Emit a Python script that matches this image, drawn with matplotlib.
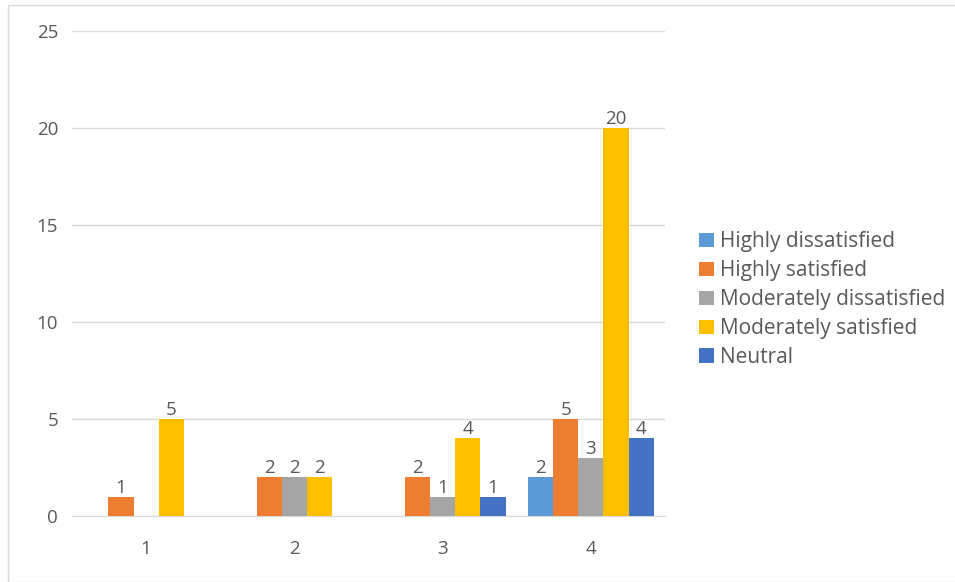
import matplotlib
matplotlib.use('Agg')
import matplotlib.pyplot as plt
from matplotlib.patches import Rectangle
import numpy as np

categories = ['1', '2', '3', '4']
series_names = ['Highly dissatisfied', 'Highly satisfied', 'Moderately dissatisfied',
                'Moderately satisfied', 'Neutral']
highly_dissatisfied = [0, 0, 0, 2]
highly_satisfied = [1, 2, 2, 5]
moderately_dissatisfied = [0, 2, 1, 3]
moderately_satisfied = [5, 2, 4, 20]
neutral = [0, 0, 1, 4]
colors = ['#5B9BD5', '#ED7D31', '#A5A5A5', '#FFC000', '#4472C4']

plt.rcParams['font.family'] = ['Open Sans', 'DejaVu Sans']
text_color = '#595959'
fs = 13.5

fig = plt.figure(figsize=(9.55, 5.82), dpi=100)
ax = fig.add_axes([72 / 955, 1 - 516 / 582, 593 / 955, (516 - 31) / 582])

# light frame round the chart
fig.patches.append(Rectangle((8 / 955, 0), 1, 1 - 5 / 582, transform=fig.transFigure,
                             fill=False, edgecolor='#D9D9D9', linewidth=1))

x = np.arange(1, len(categories) + 1)
width = 0.17
all_values = [highly_dissatisfied, highly_satisfied, moderately_dissatisfied,
              moderately_satisfied, neutral]
for i, (name, vals, c) in enumerate(zip(series_names, all_values, colors)):
    bars = ax.bar(x + (i - 2) * width, vals, width, color=c, label=name, zorder=3)
    labels = [str(v) if v else '' for v in vals]
    ax.bar_label(bars, labels=labels, padding=0, fontsize=fs, color=text_color)

ax.set_xlim(0.5, 4.5)
ax.set_ylim(0, 25)
ax.set_yticks(range(0, 26, 5))
ax.set_xticks(x, categories)
ax.grid(axis='y', color='#D9D9D9', linewidth=1, zorder=0)
for s in ['top', 'right', 'left']:
    ax.spines[s].set_visible(False)
ax.spines['bottom'].set_color('#D9D9D9')
ax.tick_params(axis='both', length=0, labelsize=fs, labelcolor=text_color)
ax.tick_params(axis='y', pad=10)
ax.tick_params(axis='x', pad=17)

fig.legend(loc='upper left', bbox_to_anchor=(691 / 955, 1 - 223 / 582), frameon=False,
           fontsize=15, labelcolor=text_color, handlelength=0.7, handleheight=0.7,
           handletextpad=0.3, labelspacing=0.38, borderaxespad=0)

fig.savefig('out.png', dpi=100)
